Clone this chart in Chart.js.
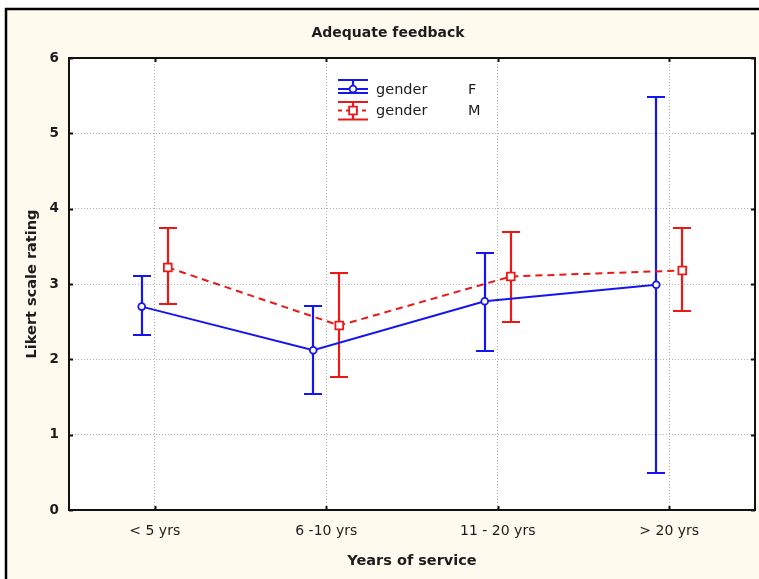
<!DOCTYPE html>
<html>
<head>
<meta charset="utf-8">
<title>Adequate feedback</title>
<script src="https://cdn.jsdelivr.net/npm/chart.js@4/dist/chart.umd.min.js"></script>
<style>
  html, body { margin: 0; padding: 0; background: #ffffff; overflow: hidden; }
  #wrap { width: 759px; height: 579px; position: relative; }
  #chart { display: block; }
</style>
</head>
<body>
<div id="wrap"><canvas id="chart"></canvas></div>
<script>
// Years-of-service groups and tick labels
const categories = ['< 5 yrs', '6 -10 yrs', '11 - 20 yrs', '> 20 yrs'];
const yTickValues = [0, 1, 2, 3, 4, 5, 6];

// Mean rating and confidence limits, gender F
const meanF = [2.70, 2.12, 2.77, 2.99];
const lowF  = [2.32, 1.54, 2.11, 0.49];
const highF = [3.10, 2.71, 3.41, 5.48];

// Mean rating and confidence limits, gender M
const meanM = [3.22, 2.45, 3.10, 3.18];
const lowM  = [2.74, 1.76, 2.49, 2.64];
const highM = [3.74, 3.14, 3.69, 3.74];

// Legend text
const legendNames  = ['gender', 'gender'];
const legendLevels = ['F', 'M'];

const BLUE = '#1515f0';
const RED = '#ec1818';
const INK = '#1c1c1c';
const CREAM = '#fefaee';
// horizontal dodge of the two series inside each group (in category units)
const SHIFT = 0.076;

Chart.defaults.font.family = "'DejaVu Sans', Verdana, sans-serif";
Chart.defaults.color = INK;

// Page frame, plot background, plot border and inward tick marks
const framePlugin = {
  id: 'frame',
  beforeDraw(chart) {
    const { ctx, width, height, chartArea: a } = chart;
    ctx.save();
    ctx.fillStyle = CREAM;
    ctx.fillRect(6, 9, width - 6, height - 9);
    ctx.fillStyle = '#ffffff';
    ctx.fillRect(a.left, a.top, a.right - a.left, a.bottom - a.top);
    ctx.strokeStyle = '#000000';
    ctx.lineWidth = 2.5;
    ctx.beginPath();
    ctx.moveTo(5, 9); ctx.lineTo(width, 9);
    ctx.moveTo(6, 8); ctx.lineTo(6, height);
    ctx.stroke();
    ctx.restore();
  },
  afterDraw(chart) {
    const { ctx, chartArea: a, scales: { x, y } } = chart;
    ctx.save();
    ctx.strokeStyle = '#111111';
    ctx.lineWidth = 2;
    ctx.strokeRect(a.left, a.top, a.right - a.left, a.bottom - a.top);
    ctx.beginPath();
    const tl = 4;
    y.ticks.forEach(t => {
      const py = Math.round(y.getPixelForValue(t.value)) + 0.5;
      ctx.moveTo(a.left, py); ctx.lineTo(a.left + tl, py);
      ctx.moveTo(a.right, py); ctx.lineTo(a.right - tl, py);
    });
    x.ticks.forEach(t => {
      const px = Math.round(x.getPixelForValue(t.value)) + 0.5;
      ctx.moveTo(px, a.top); ctx.lineTo(px, a.top + tl);
      ctx.moveTo(px, a.bottom); ctx.lineTo(px, a.bottom - tl);
    });
    ctx.stroke();
    ctx.restore();
  }
};

// Vertical confidence-interval bars with caps
const errorBarPlugin = {
  id: 'errorBars',
  beforeDatasetsDraw(chart) {
    const { ctx, scales: { x, y } } = chart;
    chart.data.datasets.forEach(ds => {
      ctx.save();
      ctx.strokeStyle = ds.borderColor;
      ctx.lineWidth = 2.2;
      ctx.beginPath();
      ds.data.forEach((pt, i) => {
        const px = Math.round(x.getPixelForValue(pt.x));
        const yl = Math.round(y.getPixelForValue(ds.low[i]));
        const yh = Math.round(y.getPixelForValue(ds.high[i]));
        ctx.moveTo(px, yl); ctx.lineTo(px, yh);
        ctx.moveTo(px - 9, yl); ctx.lineTo(px + 9, yl);
        ctx.moveTo(px - 9, yh); ctx.lineTo(px + 9, yh);
      });
      ctx.stroke();
      ctx.restore();
    });
  }
};

// Legend box inside the plot: error-bar symbol, factor name, level
const legendPlugin = {
  id: 'ciLegend',
  afterDraw(chart) {
    const { ctx, chartArea: a } = chart;
    const x0 = a.left + 269, w = 30;
    const rows = [
      { cy: a.top + 31, capTop: -9, capBot: 4 },
      { cy: a.top + 52.5, capTop: -8.5, capBot: 9 }
    ];
    ctx.save();
    chart.data.datasets.forEach((ds, i) => {
      const r = rows[i];
      ctx.strokeStyle = ds.borderColor;
      ctx.lineWidth = 2.2;
      ctx.setLineDash([]);
      ctx.beginPath();
      ctx.moveTo(x0, r.cy + r.capTop); ctx.lineTo(x0 + w, r.cy + r.capTop);
      ctx.moveTo(x0, r.cy + r.capBot); ctx.lineTo(x0 + w, r.cy + r.capBot);
      ctx.moveTo(x0 + w / 2, r.cy + r.capTop); ctx.lineTo(x0 + w / 2, r.cy + r.capBot);
      ctx.stroke();
      ctx.lineWidth = 2;
      ctx.setLineDash(ds.borderDash ? [4, 4] : []);
      ctx.beginPath();
      ctx.moveTo(x0, r.cy); ctx.lineTo(x0 + w, r.cy);
      ctx.stroke();
      ctx.setLineDash([]);
      ctx.fillStyle = '#ffffff';
      ctx.strokeStyle = ds.borderColor;
      ctx.lineWidth = ds.pointBorderWidth;
      ctx.beginPath();
      if (ds.pointStyle === 'rect') {
        const s = Math.SQRT1_2 * ds.pointRadius;
        ctx.rect(x0 + w / 2 - s, r.cy - s, 2 * s, 2 * s);
      } else {
        ctx.arc(x0 + w / 2, r.cy, ds.pointRadius, 0, Math.PI * 2);
      }
      ctx.fill();
      ctx.stroke();
      ctx.fillStyle = INK;
      ctx.font = "14.5px 'DejaVu Sans'";
      ctx.textBaseline = 'middle';
      ctx.textAlign = 'left';
      ctx.fillText(legendNames[i], x0 + 38, r.cy + 1);
      ctx.fillText(legendLevels[i], x0 + 130, r.cy + 1);
    });
    ctx.restore();
  }
};

const makePoints = (means, shift) => means.map((v, i) => ({ x: i + shift, y: v }));

new Chart(document.getElementById('chart'), {
  type: 'line',
  data: {
    datasets: [
      {
        label: 'gender F',
        data: makePoints(meanF, -SHIFT),
        low: lowF,
        high: highF,
        borderColor: BLUE,
        backgroundColor: '#ffffff',
        borderWidth: 2,
        pointStyle: 'circle',
        pointRadius: 3.4,
        pointBorderWidth: 1.8,
        pointBackgroundColor: '#ffffff',
        pointBorderColor: BLUE,
        tension: 0
      },
      {
        label: 'gender M',
        data: makePoints(meanM, SHIFT),
        low: lowM,
        high: highM,
        borderColor: RED,
        backgroundColor: '#ffffff',
        borderWidth: 2,
        borderDash: [7, 5],
        pointStyle: 'rect',
        pointRadius: 5.5,
        pointBorderWidth: 1.8,
        pointBackgroundColor: '#ffffff',
        pointBorderColor: RED,
        tension: 0
      }
    ]
  },
  options: {
    responsive: true,
    maintainAspectRatio: false,
    animation: false,
    layout: { autoPadding: false, padding: { left: 21, right: 4, top: 0, bottom: 0 } },
    plugins: {
      legend: { display: false },
      tooltip: { enabled: false },
      title: {
        display: true,
        text: 'Adequate feedback',
        color: INK,
        font: { size: 14, weight: 'bold' },
        padding: { top: 25.2, bottom: 16 }
      }
    },
    scales: {
      x: {
        type: 'linear',
        min: -0.5,
        max: 3.5,
        bounds: 'data',
        afterBuildTicks: axis => { axis.ticks = categories.map((_, i) => ({ value: i })); },
        afterFit: scale => {
          scale.height = 69;
          scale.paddingLeft = 0;
          scale.paddingRight = 0;
        },
        ticks: {
          autoSkip: false,
          maxRotation: 0,
          padding: 12.5,
          color: INK,
          font: { size: 14 },
          callback: v => categories[v]
        },
        grid: { color: '#b2b2b2', lineWidth: 1, drawTicks: false },
        border: { display: false, dash: [1, 2] },
        title: {
          display: true,
          text: 'Years of service',
          color: INK,
          font: { size: 14.5, weight: 'bold' },
          padding: { top: 0, bottom: 9 }
        }
      },
      y: {
        min: 0,
        max: 6,
        afterBuildTicks: axis => { axis.ticks = yTickValues.map(v => ({ value: v })); },
        afterFit: scale => { scale.width = 48; },
        ticks: {
          padding: 10,
          color: INK,
          font: { size: 13.5, weight: 'bold' },
          callback: v => String(v)
        },
        grid: { color: '#b2b2b2', lineWidth: 1, drawTicks: false },
        border: { display: false, dash: [1, 2] },
        title: {
          display: true,
          text: 'Likert scale rating',
          color: INK,
          font: { size: 14.5, weight: 'bold' },
          padding: { top: 2.3, bottom: 0 }
        }
      }
    }
  },
  plugins: [framePlugin, errorBarPlugin, legendPlugin]
});
</script>
</body>
</html>
